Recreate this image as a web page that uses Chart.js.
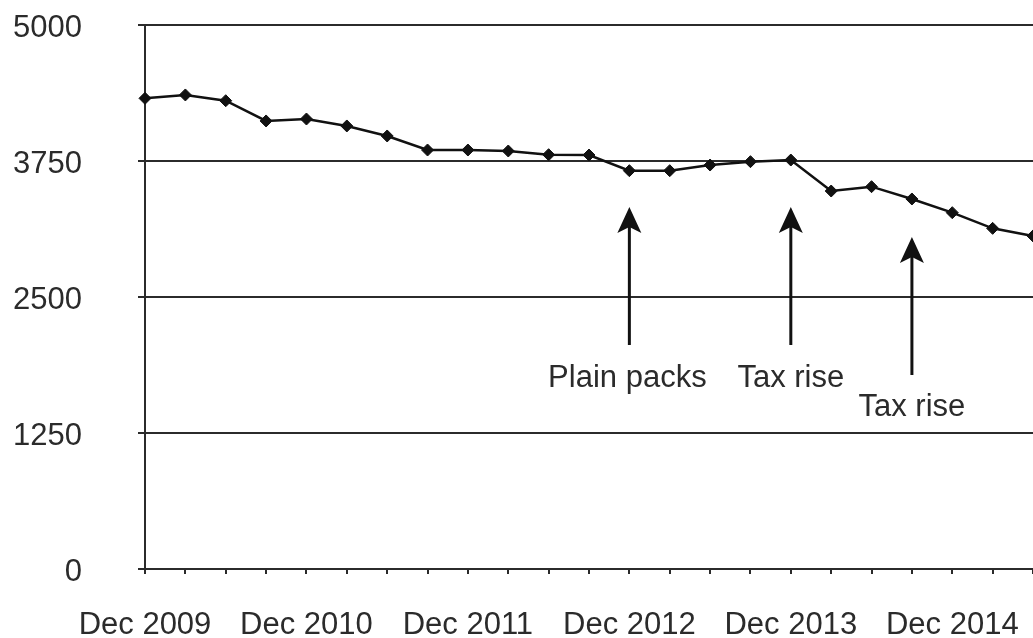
<!DOCTYPE html>
<html lang="en">
<head>
  <meta charset="UTF-8">
  <title>Quarterly trend with policy events</title>
  <script src="https://cdn.jsdelivr.net/npm/chart.js"></script>
  <style>
    html, body { margin: 0; padding: 0; background: #fff; overflow: hidden; }
    /* plot runs slightly past the right edge, as in the source image */
    .wrap { position: relative; width: 1040px; height: 638px; }
  </style>
</head>
<body>

<div class="wrap"><canvas id="trend"></canvas></div>

<script>
// quarterly labels, Dec 2009 .. Jun 2015
const quarters = [
  'Dec 2009','Mar 2010','Jun 2010','Sep 2010',
  'Dec 2010','Mar 2011','Jun 2011','Sep 2011',
  'Dec 2011','Mar 2012','Jun 2012','Sep 2012',
  'Dec 2012','Mar 2013','Jun 2013','Sep 2013',
  'Dec 2013','Mar 2014','Jun 2014','Sep 2014',
  'Dec 2014','Mar 2015','Jun 2015'
];
const values = [
  4326, 4357, 4304, 4118, 4136, 4072, 3980, 3851, 3851, 3842, 3808, 3805,
  3661, 3661, 3713, 3744, 3759, 3474, 3514, 3401, 3275, 3131, 3061
];
const yTicks = [0, 1250, 2500, 3750, 5000];

const eventText  = ['Plain packs', 'Tax rise', 'Tax rise'];
const eventAt    = ['Dec 2012', 'Dec 2013', 'Sep 2014'];

const INK = '#2b2b2b';
const FONT = "'Liberation Sans', Arial, sans-serif";

// arrows + labels, in data units
const arrowPlugin = {
  id: 'eventArrows',
  afterDatasetsDraw(chart, args, opts) {
    const { ctx, scales: { x, y } } = chart;
    ctx.save();
    eventAt.forEach((q, i) => {
      const a = opts.items[i];
      const px = x.getPixelForValue(quarters.indexOf(q));
      const tip = y.getPixelForValue(a.tip);
      const tail = y.getPixelForValue(a.tail);
      ctx.strokeStyle = '#111';
      ctx.fillStyle = '#111';
      ctx.lineWidth = 3;
      ctx.beginPath();
      ctx.moveTo(px, tail);
      ctx.lineTo(px, tip + 14);
      ctx.stroke();
      ctx.beginPath();
      ctx.moveTo(px, tip);
      ctx.lineTo(px + 12, tip + 26);
      ctx.lineTo(px, tip + 20);
      ctx.lineTo(px - 12, tip + 26);
      ctx.closePath();
      ctx.fill();
      ctx.fillStyle = INK;
      ctx.font = '31px ' + FONT;
      ctx.textAlign = 'center';
      ctx.textBaseline = 'middle';
      ctx.fillText(eventText[i], px + (a.dx || 0), y.getPixelForValue(a.text));
    });
    ctx.restore();
  }
};

new Chart(document.getElementById('trend'), {
  type: 'line',
  data: {
    labels: quarters,
    datasets: [{
      data: values,
      borderColor: '#111',
      borderWidth: 2.5,
      pointStyle: 'rectRot',
      pointRadius: 6,
      pointBackgroundColor: '#111',
      pointBorderColor: '#111',
      pointBorderWidth: 1,
      tension: 0
    }]
  },
  plugins: [arrowPlugin],
  options: {
    responsive: true,
    maintainAspectRatio: false,
    animation: false,
    layout: { padding: { top: 25, right: 2, left: 0, bottom: 0 } },
    plugins: {
      legend: { display: false },
      tooltip: { enabled: false },
      eventArrows: {
        items: [
          { tip: 3327, tail: 2059, text: 1755, dx: -2 },
          { tip: 3327, tail: 2059, text: 1755, dx: 0 },
          { tip: 3051, tail: 1783, text: 1489, dx: 0 }
        ]
      }
    },
    scales: {
      x: {
        offset: false,
        afterFit: s => { s.height = 69; s.paddingLeft = 0; s.paddingRight = 0; },
        border: { display: true, color: INK, width: 2 },
        grid: { drawOnChartArea: false, drawTicks: true, tickLength: 5, color: INK, lineWidth: 2 },
        ticks: {
          autoSkip: false,
          maxRotation: 0,
          padding: 33,
          color: INK,
          font: { family: FONT, size: 31 },
          callback: (v, i) => (quarters[i].startsWith('Dec') ? quarters[i] : '')
        }
      },
      y: {
        min: 0,
        max: 5000,
        afterFit: s => { s.width = 145; s.paddingTop = 0; s.paddingBottom = 0; },
        afterBuildTicks: s => { s.ticks = yTicks.map(v => ({ value: v })); },
        border: { display: true, color: INK, width: 2 },
        grid: { color: INK, lineWidth: 2, tickLength: 7 },
        ticks: {
          padding: 56,
          color: INK,
          // two-line label with a tiny line height nudges the number a few px down
          font: { family: FONT, size: 31, lineHeight: 0.25 },
          callback: v => ['', String(v)]
        }
      }
    }
  }
});
</script>

</body>
</html>
